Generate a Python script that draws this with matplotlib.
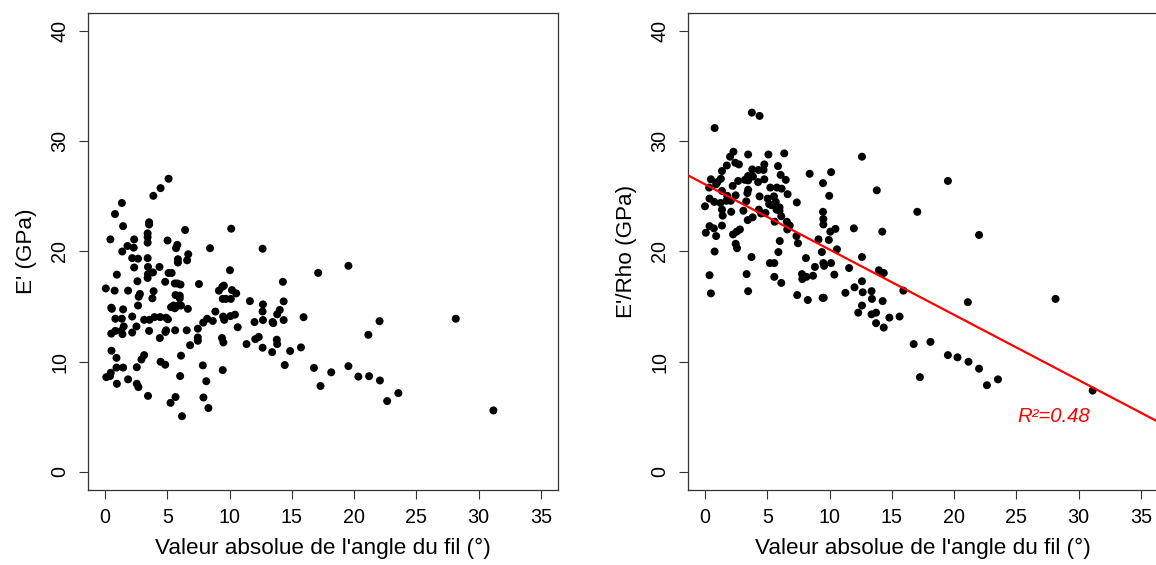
import numpy as np
import matplotlib
matplotlib.use("Agg")
import matplotlib.pyplot as plt

plt.rcParams['font.family'] = ['Liberation Sans', 'DejaVu Sans']

# Left panel: E' (GPa) vs |grain angle|
angle_left = [0.06, 0.43, 0.8, 1.35, 1.45, 1.38, 0.95, 0.77, 0.5, 0.55, 0.83, 1.35, 1.45,
              0.5, 0.83, 1.3, 1.4, 1.5, 0.52, 0.92, 0.92, 1.45, 0.1, 0.4, 0.46, 0.95, 1.85,
              1.85, 1.8, 2.18, 2.34, 2.3, 2.34, 2.6, 2.65, 2.18, 2.65, 2.7, 2.8, 2.18, 2.52,
              2.55, 2.55, 2.68, 2.92, 3.14, 3.14, 3.45, 3.42, 3.42, 3.42, 3.54, 3.54, 3.42,
              3.45, 3.45, 3.42, 3.85, 3.88, 3.8, 3.9, 3.57, 3.54, 3.97, 4.37, 4.46, 4.43,
              4.4, 4.46, 4.83, 4.83, 4.9, 5.05, 5.02, 5.1, 5.35, 5.1, 4.9, 4.85, 5.26, 5.3,
              5.5, 5.6, 5.66, 5.6, 5.8, 5.66, 5.63, 5.7, 5.8, 5.85, 5.85, 6.0, 6.0, 5.88,
              6.1, 6.06, 6.1, 6.03, 6.18, 6.43, 6.59, 6.68, 6.65, 6.56, 6.83, 7.54, 7.45,
              7.45, 7.45, 7.85, 7.9, 8.13, 8.3, 7.88, 8.2, 8.43, 8.65, 8.86, 9.14, 9.42,
              9.54, 9.45, 9.7, 9.48, 9.57, 9.39, 9.5, 9.45, 10.03, 10.1, 10.19, 10.13, 10.06,
              10.43, 10.53, 10.65, 11.36, 11.63, 12.0, 12.06, 12.34, 12.65, 12.68, 12.65,
              12.68, 12.65, 13.42, 13.45, 13.5, 13.82, 14.03, 13.79, 13.82, 14.28, 14.34,
              14.34, 14.43, 14.86, 15.73, 15.94, 16.77, 17.11, 17.3, 18.16, 19.54, 19.54,
              20.34, 21.14, 21.2, 22.04, 22.07, 22.65, 23.55, 28.16, 31.18]
modulus = [16.65, 21.1, 23.4, 24.4, 22.3, 20.0, 17.9, 16.45, 14.9, 14.8, 13.9, 13.9, 14.75,
           12.55, 12.8, 12.8, 12.5, 13.2, 11.0, 10.35, 9.47, 9.47, 8.6, 8.7, 9.0, 8.0, 8.4,
           16.45, 20.5, 19.4, 21.1, 20.35, 18.55, 17.3, 19.35, 14.1, 15.1, 15.9, 16.15,
           12.65, 13.2, 9.5, 8.0, 7.7, 10.2, 10.6, 13.8, 6.9, 21.65, 21.3, 20.8, 22.65,
           22.45, 19.4, 18.6, 17.95, 17.6, 18.1, 25.05, 15.75, 16.4, 13.8, 12.8, 14.05,
           18.6, 25.75, 14.05, 12.15, 10.0, 9.73, 17.25, 14.0, 13.85, 21.0, 18.05, 18.05,
           26.6, 12.85, 12.7, 6.27, 14.95, 15.1, 14.85, 6.8, 17.1, 17.1, 16.05, 12.85,
           20.3, 20.6, 19.3, 19.0, 16.0, 15.75, 15.1, 15.1, 17.0, 10.55, 8.7, 5.06, 21.95,
           19.2, 19.75, 14.8, 12.85, 11.5, 17.05, 13.0, 12.2, 11.9, 9.67, 6.76, 8.23, 5.8,
           13.55, 13.9, 20.3, 13.7, 14.55, 16.45, 16.8, 16.9, 15.7, 15.7, 14.1, 13.8,
           12.15, 11.75, 9.24, 18.3, 15.7, 16.5, 22.07, 14.14, 14.27, 16.2, 13.13, 11.6,
           15.5, 13.6, 12.05, 12.25, 20.25, 15.2, 14.56, 13.78, 11.27, 10.87, 13.6, 13.5,
           14.3, 14.7, 12.0, 11.6, 17.25, 15.48, 13.78, 9.7, 10.97, 11.3, 14.04, 9.44,
           18.06, 7.8, 9.04, 18.7, 9.6, 8.65, 12.44, 8.69, 13.68, 8.3, 6.43, 7.15, 13.9,
           5.58]

# Right panel: E'/Rho (GPa) vs |grain angle|
angle_right = [0.0, 0.06, 0.36, 0.47, 0.77, 0.33, 0.47, 0.36, 0.36, 0.71, 0.89, 0.77, 0.74,
               0.89, 1.0, 1.27, 1.36, 1.36, 1.24, 1.36, 1.42, 1.36, 1.75, 1.78, 1.72, 2.07,
               2.1, 2.01, 2.28, 2.22, 2.46, 2.43, 2.72, 2.25, 2.54, 2.46, 2.57, 2.8, 2.66,
               3.08, 3.2, 3.34, 3.46, 3.46, 3.46, 3.46, 3.46, 3.4, 3.31, 3.43, 3.79, 3.76,
               4.38, 3.85, 3.73, 3.82, 4.26, 4.29, 4.38, 4.32, 4.5, 4.7, 4.76, 4.76, 5.09,
               4.85, 5.03, 5.24, 5.15, 5.33, 5.21, 5.56, 5.56, 5.53, 5.68, 5.74, 5.59, 5.86,
               5.77, 5.98, 5.98, 6.12, 5.89, 6.0, 6.12, 6.07, 6.15, 6.36, 6.48, 6.57, 6.63,
               6.8, 6.6, 7.37, 7.34, 7.46, 7.4, 7.78, 7.81, 8.1, 8.14, 8.25, 8.4, 8.67, 8.82,
               9.11, 9.38, 9.44, 9.53, 9.47, 9.47, 9.5, 9.5, 9.5, 9.56, 9.94, 9.97, 10.06,
               10.12, 10.12, 10.38, 10.47, 10.59, 11.27, 11.57, 11.95, 12.0, 12.3, 12.6,
               12.6, 12.6, 12.66, 12.6, 13.37, 13.4, 13.37, 13.79, 13.73, 13.73, 13.96, 14.2,
               14.35, 14.23, 14.26, 14.35, 14.8, 15.62, 15.92, 16.75, 17.04, 17.25, 18.1,
               19.5, 19.5, 20.27, 21.1, 21.15, 22.0, 22.0, 22.63, 23.52, 28.14, 31.12]
specific_modulus = [24.1, 21.7, 17.85, 16.2, 31.2, 25.8, 26.55, 24.8, 22.3, 22.1, 21.4, 20.0,
                    24.5, 26.1, 26.3, 26.6, 27.3, 25.5, 24.4, 23.8, 23.25, 22.35, 27.8, 25.05,
                    24.6, 24.6, 23.6, 28.6, 29.05, 25.95, 25.1, 28.05, 27.9, 21.55, 21.8,
                    20.7, 20.3, 22.0, 26.4, 23.7, 26.5, 17.95, 16.4, 28.8, 26.85, 26.45, 25.6,
                    25.3, 24.55, 22.85, 27.45, 32.6, 32.3, 26.8, 19.5, 23.1, 26.3, 27.4, 25.0,
                    23.8, 23.45, 27.4, 27.9, 26.55, 28.8, 23.5, 24.8, 25.8, 24.3, 24.2, 18.95,
                    18.95, 17.7, 25.0, 24.5, 23.8, 22.7, 27.75, 25.8, 24.0, 23.7, 23.2, 19.95,
                    20.95, 17.15, 26.95, 25.7, 28.9, 26.5, 22.7, 25.2, 22.35, 22.0, 24.45,
                    21.4, 20.75, 16.05, 17.95, 17.5, 19.4, 17.7, 15.6, 27.05, 17.8, 18.6,
                    21.1, 19.95, 15.8, 15.8, 23.6, 26.2, 22.95, 22.45, 18.95, 18.7, 21.05,
                    25.05, 21.8, 27.2, 18.95, 17.9, 22.05, 20.2, 16.25, 18.5, 22.1, 16.75,
                    14.45, 28.6, 19.5, 17.3, 16.3, 15.1, 16.4, 15.7, 14.3, 25.55, 14.45, 13.5,
                    18.3, 18.05, 18.05, 21.8, 15.5, 13.1, 14.0, 14.1, 16.45, 11.6, 23.6, 8.6,
                    11.8, 10.6, 26.4, 10.4, 15.4, 10.0, 21.5, 9.37, 7.87, 8.4, 15.7, 7.38]

x_ticks = [0, 5, 10, 15, 20, 25, 30, 35]
y_ticks = [0, 10, 20, 30, 40]
x_label = "Valeur absolue de l'angle du fil (°)"
y_label_left = "E' (GPa)"
y_label_right = "E'/Rho (GPa)"
r2_label = "R²=0.48"

slope, intercept = np.polyfit(angle_right, specific_modulus, 1)

W, H = 1156, 565
fig = plt.figure(figsize=(W / 100, H / 100), dpi=100)


def make_axes(left_px):
    ax = fig.add_axes([left_px / W, 75.4 / H, 470.8 / W, 476.2 / H])
    ax.set_xlim(-1.4, 36.4)
    ax.set_ylim(-1.6, 41.6)
    ax.set_xticks(x_ticks)
    ax.set_yticks(y_ticks)
    ax.tick_params(direction='out', length=6.6, width=0.8, labelsize=14.2, pad=6.5,
                   color='#333333')
    for lbl in ax.get_yticklabels():
        lbl.set_rotation(90)
        lbl.set_va('center')
    for s in ax.spines.values():
        s.set_linewidth(0.9)
        s.set_color('#333333')
    ax.set_xlabel(x_label, fontsize=16.2, labelpad=8)
    return ax


ax1 = make_axes(87.6)
ax1.scatter(angle_left, modulus, s=33, color='black', edgecolors='none', zorder=3)
ax1.set_ylabel(y_label_left, fontsize=16.2, labelpad=10)

ax2 = make_axes(687.6)
ax2.scatter(angle_right, specific_modulus, s=33, color='black', edgecolors='none', zorder=3)
xl = np.array(ax2.get_xlim())
ax2.plot(xl, intercept + slope * xl, color='red', lw=1.6, zorder=4)
ax2.set_xlim(-1.4, 36.4)
ax2.set_ylabel(y_label_right, fontsize=16.2, labelpad=10)
ax2.text(28.0, 5.0, r2_label, color='red', fontsize=14.6, style='italic',
         ha='center', va='center')

fig.savefig("out.png", dpi=100)
